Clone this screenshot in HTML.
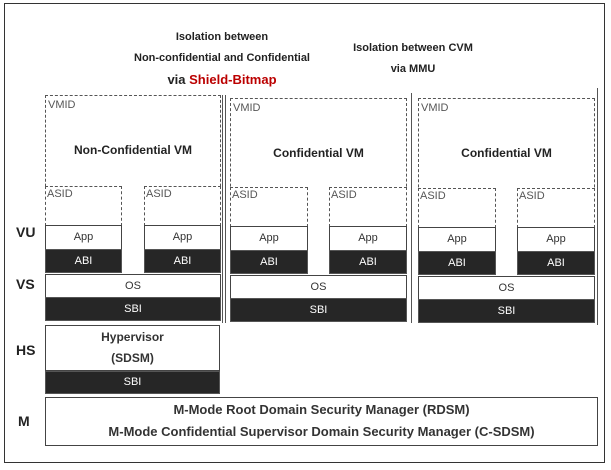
<!DOCTYPE html>
<html><head><meta charset="utf-8"><style>
body{margin:0;width:611px;height:470px;background:#fff;font-family:"Liberation Sans",sans-serif;overflow:hidden}
.a{position:absolute;box-sizing:border-box}
.dash{border:1.5px dashed #555}
.w{border:1.5px solid #444;background:#fff;text-align:center;font-size:11px;color:#333}
.d{background:#262626;color:#fff;text-align:center;font-size:11px;border:1px solid #555}
.t{font-size:11px;font-weight:bold;color:#222;text-align:center}
.sm{font-size:11px;color:#555}
.lab{font-size:14px;font-weight:bold;color:#222}
.sep{border-left:1.5px solid #555}
</style></head><body>
<div class="a" style="left:4px;top:3px;width:601px;height:460px;border:1.5px solid #333"></div>
<div class="a t" style="left:112px;top:27px;width:220px;line-height:21px">Isolation between<br>Non-confidential and Confidential<br><span style="font-size:13px">via <span style="color:#b00">Shield-Bitmap</span></span></div>
<div class="a t" style="left:333px;top:38px;width:160px;line-height:21px">Isolation between CVM<br>via MMU</div>
<div class="a sep" style="left:222px;top:95px;height:228px;width:4px;border-right:1.5px solid #555"></div>
<div class="a sep" style="left:411px;top:93px;height:230px"></div>
<div class="a sep" style="left:597px;top:88px;height:237px"></div>
<div class="a lab" style="left:16px;top:224px">VU</div>
<div class="a lab" style="left:16px;top:276px">VS</div>
<div class="a lab" style="left:16px;top:342px">HS</div>
<div class="a lab" style="left:18px;top:413px">M</div>
<div id="panels"></div>
<div class="a w" style="left:45px;top:325px;width:175px;height:46px;font-weight:bold;font-size:12px;line-height:21px;padding-top:1px">Hypervisor<br>(SDSM)</div>
<div class="a d" style="left:45px;top:371px;width:175px;height:23px;line-height:21px">SBI</div>
<div class="a w" style="left:45px;top:397px;width:553px;height:49px;font-weight:bold;font-size:13px;line-height:22px;padding-top:1px">M-Mode Root Domain Security Manager (RDSM)<br>M-Mode Confidential Supervisor Domain Security Manager (C-SDSM)</div>
<script>
const panels=[{x:45,w:176,top:95,y:186,name:"Non-Confidential VM"},{x:230,w:177,top:98,y:187,name:"Confidential VM"},{x:418,w:177,top:98,y:188,name:"Confidential VM"}];
const root=document.getElementById('panels');
function box(cls,l,t,w,h,txt,name){const e=document.createElement('div');e.className='a '+cls;
e.style.cssText=`left:${l}px;top:${t}px;width:${w}px;height:${h}px;line-height:${h-2}px`;
if(txt)e.textContent=txt;


root.appendChild(e);return e;}
panels.forEach((p,i)=>{
 const vm=box('dash',p.x,p.top,p.w,p.y-p.top+40,'','vm-box-'+i);vm.style.lineHeight='normal';vm.style.borderBottom='none';
 const v=box('sm',p.x+3,p.top+4,40,14,'VMID','vmid-label-'+i);
 const t=box('t',p.x,p.top+48,p.w,16,p.name,'vm-title-'+i);t.style.fontSize='12px';
 const aw=Math.round(p.w*0.44);
 [[p.x,0],[p.x+p.w-aw,1]].forEach(([ax,j])=>{
  const a=box('dash',ax,p.y,aw,40,'','asid-box-'+i+'-'+j);a.style.background='#fff';
  box('sm',ax+2,p.y+2,40,14,'ASID','asid-label-'+i+'-'+j);
  box('w',ax,p.y+39,aw,25,'App','app-'+i+'-'+j);
  box('d',ax,p.y+63,aw,24,'ABI','abi-'+i+'-'+j);
 });
 box('w',p.x,p.y+88,p.w,24,'OS','os-'+i);
 box('d',p.x,p.y+111,p.w,24,'SBI','vs-sbi-'+i);
});
</script>
</body></html>
